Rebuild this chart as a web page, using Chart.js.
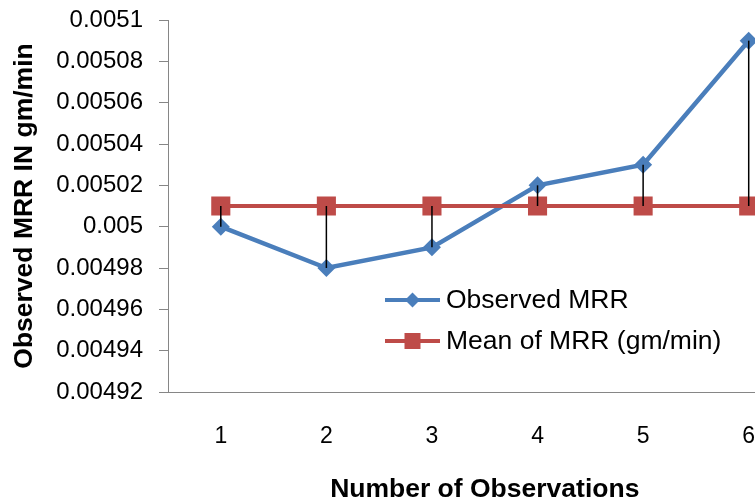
<!DOCTYPE html>
<html>
<head>
<meta charset="utf-8">
<script src="https://cdn.jsdelivr.net/npm/chart.js@4.4.1/dist/chart.umd.min.js"></script>
<style>
html,body{margin:0;padding:0;background:#fff;overflow:hidden;width:755px;height:501px;}
#wrap{position:absolute;left:0;top:0;width:815px;height:501px;}
</style>
</head>
<body>
<div id="wrap"><canvas id="c" width="815" height="501"></canvas></div>
<script>
const categories = ["1", "2", "3", "4", "5", "6"];
const observedMRR = [0.00500, 0.00498, 0.00499, 0.00502, 0.00503, 0.00509];
const meanMRR = [0.00501, 0.00501, 0.00501, 0.00501, 0.00501, 0.00501];
const yTickLabels = ["0.00492", "0.00494", "0.00496", "0.00498", "0.005", "0.00502", "0.00504", "0.00506", "0.00508", "0.0051"];
const seriesNames = ["Observed MRR", "Mean of MRR (gm/min)"];
const xTitle = "Number of Observations";
const yTitle = "Observed MRR IN gm/min";

const BLUE = '#4a7ebb';
const RED = '#be4b48';
const FONT = "'Liberation Sans', Arial, sans-serif";

const dropLines = {
  id: 'dropLines',
  afterDatasetsDraw(chart) {
    const ctx = chart.ctx;
    const xs = chart.scales.x, ys = chart.scales.y;
    ctx.save();
    ctx.strokeStyle = '#000';
    ctx.lineWidth = 1.5;
    for (let i = 0; i < categories.length; i++) {
      const x = xs.getPixelForValue(i);
      ctx.beginPath();
      ctx.moveTo(x, ys.getPixelForValue(observedMRR[i]));
      ctx.lineTo(x, ys.getPixelForValue(meanMRR[i]));
      ctx.stroke();
    }
    ctx.restore();
  }
};

const inLegend = {
  id: 'inLegend',
  afterDraw(chart) {
    const ctx = chart.ctx;
    const x0 = 385, x1 = 440, tx = 446;
    const rows = [
      {y: 300, color: BLUE, style: 'diamond', text: seriesNames[0]},
      {y: 341, color: RED, style: 'square', text: seriesNames[1]}
    ];
    ctx.save();
    rows.forEach(r => {
      ctx.strokeStyle = r.color;
      ctx.fillStyle = r.color;
      ctx.lineWidth = 4;
      ctx.beginPath();
      ctx.moveTo(x0, r.y);
      ctx.lineTo(x1, r.y);
      ctx.stroke();
      const cx = (x0 + x1) / 2;
      ctx.beginPath();
      if (r.style === 'diamond') {
        const s = 7.5;
        ctx.moveTo(cx - s, r.y); ctx.lineTo(cx, r.y - s); ctx.lineTo(cx + s, r.y); ctx.lineTo(cx, r.y + s);
        ctx.closePath();
      } else {
        ctx.rect(cx - 8, r.y - 8, 16, 16);
      }
      ctx.fill();
      ctx.fillStyle = '#000';
      ctx.font = "26.5px " + FONT;
      ctx.textBaseline = 'middle';
      ctx.textAlign = 'left';
      ctx.fillText(r.text, tx, r.y + 1);
    });
    ctx.restore();
  }
};

new Chart(document.getElementById('c'), {
  type: 'line',
  data: {
    labels: categories,
    datasets: [
      {
        label: seriesNames[0],
        data: observedMRR,
        borderColor: BLUE,
        backgroundColor: BLUE,
        borderWidth: 4.5,
        pointStyle: 'rectRot',
        pointRadius: 9,
        pointBorderWidth: 0,
        pointBackgroundColor: BLUE,
        tension: 0,
        order: 2
      },
      {
        label: seriesNames[1],
        data: meanMRR,
        borderColor: RED,
        backgroundColor: RED,
        borderWidth: 4,
        pointStyle: 'rect',
        pointRadius: 13.5,
        pointBorderWidth: 0,
        pointBackgroundColor: RED,
        tension: 0,
        order: 1
      }
    ]
  },
  options: {
    responsive: false,
    animation: false,
    devicePixelRatio: 1,
    layout: {padding: {top: 20, right: 1, left: 0, bottom: 0}},
    plugins: {legend: {display: false}, tooltip: {enabled: false}},
    scales: {
      x: {
        type: 'category',
        offset: true,
        grid: {display: false, drawTicks: false},
        border: {display: true, color: '#868686', width: 1},
        ticks: {color: '#000', font: {family: FONT, size: 23}, padding: 31, maxRotation: 0},
        title: {display: true, text: xTitle, color: '#000', font: {family: FONT, size: 26.5, weight: 'bold', lineHeight: 1}, padding: {top: 0, bottom: -2}},
        afterFit(s) { s.height = 109; s.paddingLeft = 0; s.paddingRight = 0; }
      },
      y: {
        min: 0.00492,
        max: 0.0051,
        grid: {display: true, drawOnChartArea: false, drawTicks: true, tickLength: 9, color: '#868686'},
        border: {display: true, color: '#868686', width: 1},
        ticks: {
          stepSize: 0.00002,
          color: '#000',
          font: {family: FONT, size: 24},
          padding: 16,
          callback: (v, i) => yTickLabels[i]
        },
        title: {display: true, text: yTitle, color: '#000', font: {family: FONT, size: 26.5, weight: 'bold', lineHeight: 1}, padding: {top: 11, bottom: 0}},
        afterFit(s) { s.width = 168; s.paddingTop = 0; s.paddingBottom = 0; }
      }
    }
  },
  plugins: [dropLines, inLegend]
});
</script>
</body>
</html>
